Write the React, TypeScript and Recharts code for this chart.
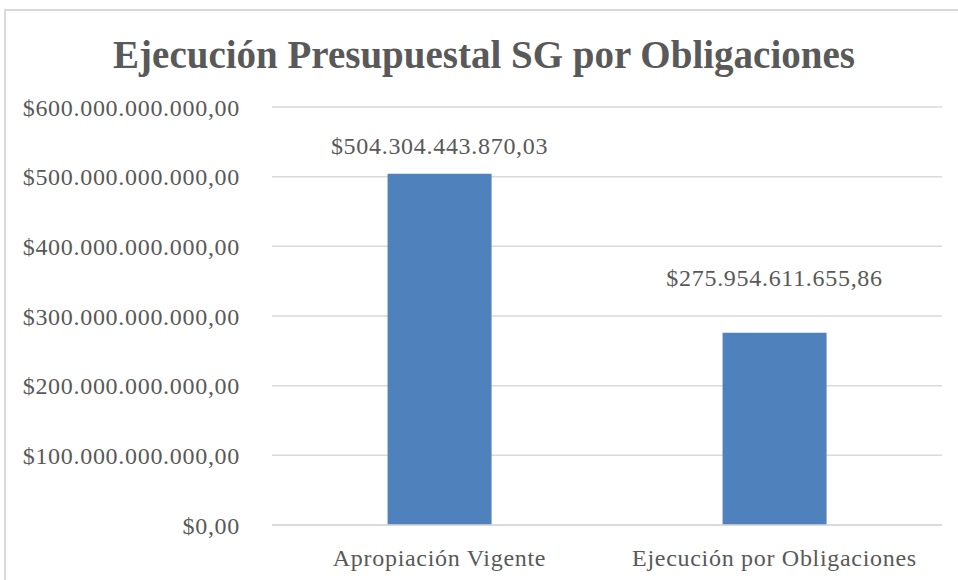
import React from "react";
import { BarChart, Bar, XAxis, YAxis, CartesianGrid, LabelList } from "recharts";

const categories = ["Apropiación Vigente", "Ejecución por Obligaciones"];
const values = [504304443870.03, 275954611655.86];
const yTicks = [0, 100000000000, 200000000000, 300000000000, 400000000000, 500000000000, 600000000000];
const title = "Ejecución Presupuestal SG por Obligaciones";

const data = categories.map((name, i) => ({ name, value: values[i] }));

const FONT = "'Liberation Serif', 'DejaVu Serif', serif";
const TEXT = "#595959";
const LS = 0.7;

function fmt(v: number): string {
  const fixed = v.toFixed(2);
  const [intPart, dec] = fixed.split(".");
  const withDots = intPart.replace(/\B(?=(\d{3})+(?!\d))/g, ".");
  return "$" + withDots + "," + dec;
}

const labelOffsets = [25, 52];

const renderLabel = (props: any) => {
  const { x, y, width, value, index } = props;
  const off = labelOffsets[index] ?? 24;
  return (
    <text
      x={x + width / 2}
      y={y - off}
      textAnchor="middle"
      dominantBaseline="middle"
      fill={TEXT}
      fontFamily={FONT}
      fontSize={24}
      letterSpacing={LS}
    >
      {fmt(value)}
    </text>
  );
};

export default function App() {
  return (
    <div style={{ position: "absolute", left: 0, top: 0, width: 958, height: 580, background: "#fff" }}>
      <style>{"body{margin:0}"}</style>
      <div
        style={{
          position: "absolute",
          left: 4,
          top: 9,
          width: 960,
          height: 580,
          border: "2px solid #d9d9d9",
          boxSizing: "border-box",
        }}
      />
      <div
        style={{
          position: "absolute",
          left: 0,
          top: 30,
          width: 968,
          textAlign: "center",
          fontFamily: FONT,
          fontWeight: "bold",
          fontSize: 39,
          color: TEXT,
          lineHeight: "50px",
        }}
      >
        {title}
      </div>
      <div style={{ position: "absolute", left: 0, top: 0 }}>
        <BarChart
          width={958}
          height={580}
          data={data}
          margin={{ top: 107, right: 16, bottom: 0, left: 0 }}
          barCategoryGap="34.5%"
        >
          <CartesianGrid vertical={false} stroke="#d9d9d9" strokeWidth={1.5} />
          <XAxis
            dataKey="name"
            height={55}
            axisLine={{ stroke: "#d9d9d9", strokeWidth: 1.5 }}
            tickLine={false}
            tickMargin={18}
            tick={{ fill: TEXT, fontFamily: FONT, fontSize: 24, letterSpacing: LS }}
          />
          <YAxis
            width={272}
            domain={[0, 600000000000]}
            ticks={yTicks}
            axisLine={false}
            tickLine={false}
            tickSize={0}
            tickMargin={32}
            tickFormatter={(v: number) => fmt(v)}
            tick={{ fill: TEXT, fontFamily: FONT, fontSize: 24, letterSpacing: LS }}
          />
          <Bar dataKey="value" fill="#4F81BD" isAnimationActive={false}>
            <LabelList dataKey="value" content={renderLabel} />
          </Bar>
        </BarChart>
      </div>
    </div>
  );
}
